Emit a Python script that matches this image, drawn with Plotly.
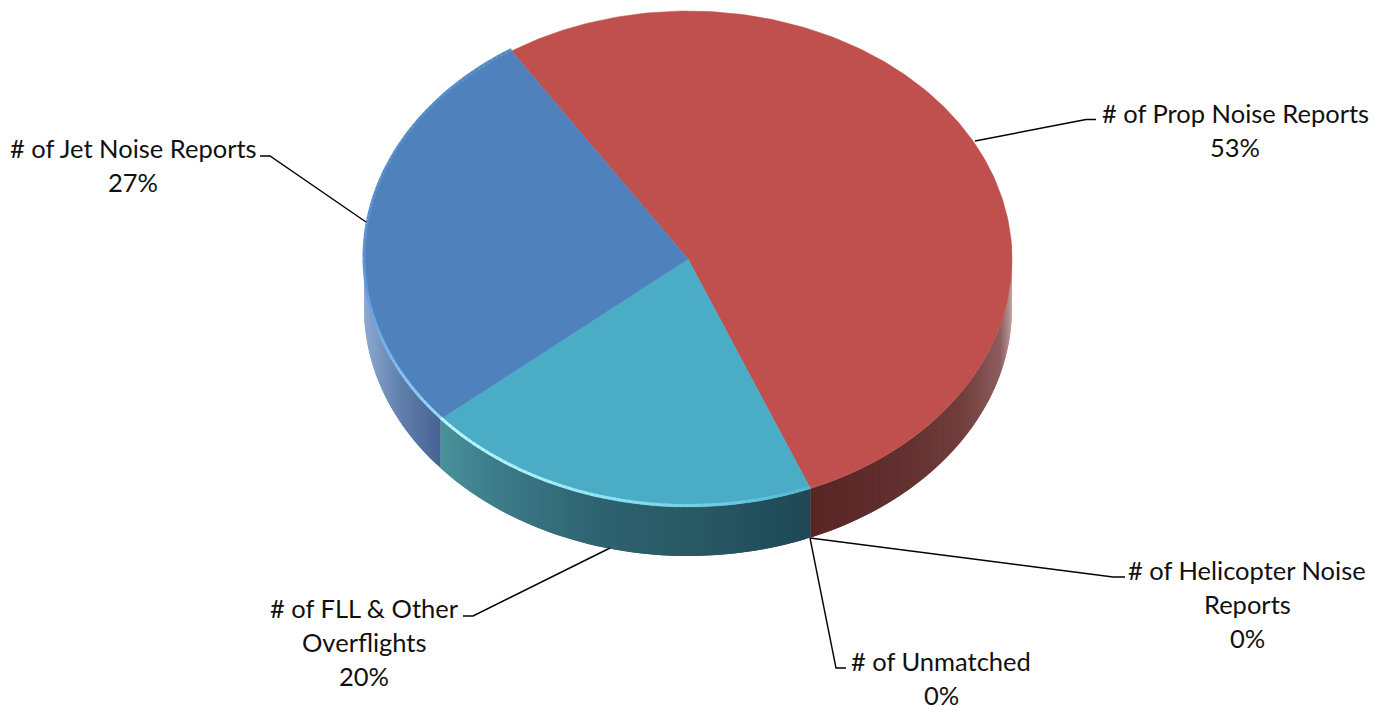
import numpy as np
import plotly.graph_objects as go

# ---- data ----
categories = ["# of Prop Noise Reports", "# of Helicopter Noise Reports", "# of Unmatched",
              "# of FLL & Other Overflights", "# of Jet Noise Reports"]
shares = [53.0, 0.0, 0.0, 20.0, 27.0]

# ---- geometry / style ----
CX, CY, RX, RY, DEPTH = 688, 259, 324, 248, 49
START = -33.0
TOP = ["#C0504D", "#C0504D", "#C0504D", "#4BACC6", "#4F81BD"]
SIDE = {
    "#C0504D": ([808, 900, 960, 1000, 1012], [(88,36,36), (98,48,48), (112,60,60), (140,92,92), (190,160,160)]),
    "#4BACC6": ([438, 500, 600, 700, 808], [(74,146,156), (60,122,136), (46,98,112), (40,88,100), (30,72,85)]),
    "#4F81BD": ([364, 400, 438], [(140,170,210), (98,128,172), (72,100,150)]),
}
RIM = {
    "#4BACC6": ([150, 175, 205, 232], [(75,172,198), (110,205,228), (165,240,252), (190,250,255)]),
    "#4F81BD": ([232, 255, 270, 300], [(150,215,250), (110,165,225), (95,145,210), (85,135,195)]),
}
FONT = dict(family="Lato, Carlito, sans-serif", size=25.5, color="#111111")
LEADERS = [
    ([975, 1086, 1096], [141, 119.5, 119.5]),
    ([366, 270, 260], [222, 156, 156]),
    ([810, 1113, 1125], [538, 577, 577]),
    ([810, 836, 846], [538, 668, 668]),
    ([610, 473, 463], [548, 616, 616]),
]
LABEL_LINES = {
    0: (1235, [113, 147]),
    4: (133, [148, 182]),
    1: (1247, [570, 604, 638]),
    2: (941, [661, 695]),
    3: (364, [608, 642, 676]),
}
WRAPS = {1: ["# of Helicopter Noise", "Reports"], 3: ["# of FLL & Other", "Overflights"]}


def pt(theta_deg, dz=0.0):
    t = np.radians(theta_deg)
    return CX + RX * np.sin(t), CY - RY * np.cos(t) + dz


def rgb(xs, cs, x):
    c = [np.interp(x, xs, [v[i] for v in cs]) for i in range(3)]
    return "rgb(%d,%d,%d)" % tuple(int(round(v)) for v in c)


fig = go.Figure()
edges = START + np.concatenate([[0], np.cumsum(shares)]) * 3.6

# side wall, drawn strip by strip (each overlapping the next, to avoid seams)
for i, color in enumerate(TOP):
    a, b = edges[i], edges[i + 1]
    if b - a <= 0 or color not in SIDE:
        continue
    lo, hi = max(a, 85), min(b, 275)
    if hi <= lo:
        continue
    for t0 in np.arange(lo, hi, 1.0):
        t1 = min(t0 + 2.0, hi)
        t2 = min(t0 + 1.0, hi)
        th = np.array([t0, t1])
        xa, ya = pt(th)
        xb, yb = pt(th[::-1], DEPTH)
        col = rgb(*SIDE[color], float(pt((t0 + t2) / 2)[0]))
        fig.add_trace(go.Scatter(x=np.r_[xa, xb, xa[0]], y=np.r_[ya, yb, ya[0]], mode="lines",
                                 fill="toself", fillcolor=col, line=dict(width=0),
                                 hoverinfo="skip", showlegend=False))

# top faces
for i, color in enumerate(TOP):
    a, b = edges[i], edges[i + 1]
    if b - a <= 0:
        continue
    th = np.linspace(a, b, 240)
    xs, ys = pt(th)
    fig.add_trace(go.Scatter(x=np.r_[CX, xs, CX], y=np.r_[CY, ys, CY], mode="lines", fill="toself",
                             fillcolor=color, line=dict(color=color, width=0.5),
                             hoverinfo="skip", showlegend=False))

# bevel highlight along the near rim
for i, color in enumerate(TOP):
    if color not in RIM or shares[i] <= 0:
        continue
    a, b = edges[i], edges[i + 1]
    for t0 in np.arange(a, b, 1.0):
        t1 = min(t0 + 1.0, b)
        tt = np.array([t0, t1])
        xs, ys = pt(tt, -1.5)
        col = rgb(*RIM[color], (t0 + t1) / 2)
        fig.add_trace(go.Scatter(x=xs, y=ys, mode="lines", line=dict(color=col, width=3),
                                 hoverinfo="skip", showlegend=False))

# leader lines
for lx, ly in LEADERS:
    fig.add_trace(go.Scatter(x=lx, y=ly, mode="lines", line=dict(color="#000000", width=1.4),
                             hoverinfo="skip", showlegend=False))

# labels
for i, (x, ys) in LABEL_LINES.items():
    lines = WRAPS.get(i, [categories[i]]) + ["%d%%" % round(shares[i])]
    for line, y in zip(lines, ys):
        fig.add_annotation(x=x, y=y, text=line, showarrow=False, font=FONT,
                           xanchor="center", yanchor="middle")

fig.update_layout(
    width=1386, height=712, margin=dict(l=0, r=0, t=0, b=0),
    paper_bgcolor="white", plot_bgcolor="white", showlegend=False,
    xaxis=dict(range=[0, 1386], visible=False, fixedrange=True),
    yaxis=dict(range=[712, 0], visible=False, fixedrange=True),
)
fig.write_html("out.html", config={"displayModeBar": False},
               post_script="document.body.style.margin='0';document.documentElement.style.overflow='hidden';")
